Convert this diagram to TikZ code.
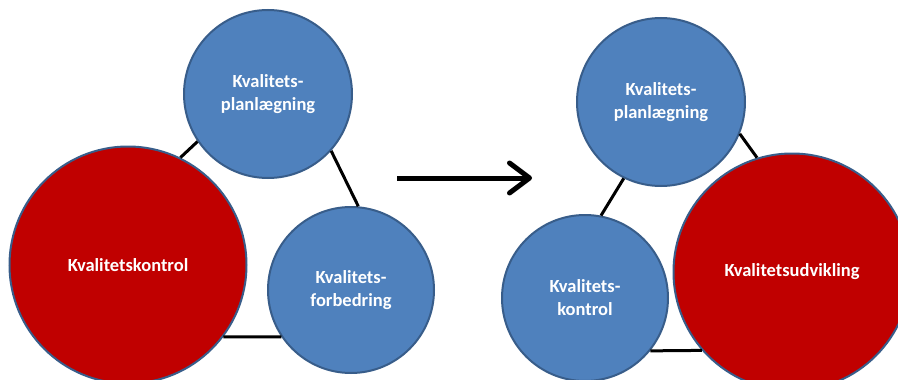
\documentclass[tikz,border=0pt]{standalone}
\usepackage{fontspec}
\setmainfont{Carlito}
\usetikzlibrary{arrows.meta}
\definecolor{cblue}{HTML}{4F81BD}
\definecolor{cedge}{HTML}{385D8A}
\definecolor{cred}{HTML}{C00000}
\tikzset{
  circ/.style={circle, draw=cedge, line width=2pt, inner sep=0pt, text=white,
    font=\fontsize{18.5}{23}\selectfont\bfseries, align=center},
  bluec/.style={circ, fill=cblue},
  redc/.style={circ, fill=cred},
  link/.style={line width=3pt, black},
  bigarrow/.style={line width=5pt, black, -{Straight Barb[length=20pt,width=30pt,round]}}
}
\begin{document}
\begin{tikzpicture}[x=1pt,y=-1pt]
\useasboundingbox (0,0) rectangle (898,380);
\clip (0,0) rectangle (898,380);
% left group
\node[bluec, minimum size=168pt] (lt) at (268,94) {Kvalitets-\\planlægning};
\node[redc, minimum size=237pt] (lr) at (128,265) {Kvalitetskontrol};
\node[bluec, minimum size=166pt] (lb) at (351,290) {Kvalitets-\\forbedring};
\draw[link] (lr.64) -- (lt.214);
\draw[link] (lt.318) -- (lb.85);
\draw[link] (lr.-37) -- (lb.214);
% arrow
\coordinate (as) at (397,178);
\coordinate (ae) at (532,178);
\draw[bigarrow] (as) -- (ae);
% right group
\node[bluec, minimum size=168pt] (rt) at (661,102) {Kvalitets-\\planlægning};
\node[bluec, minimum size=166pt] (rl) at (585,298) {Kvalitets-\\kontrol};
\node[redc, minimum size=237pt] (rr) at (792,272) {Kvalitetsudvikling};
\draw[link] (rt.-22) -- (rr.107);
\draw[link] (rt.244) -- (rl.79);
\draw[link] (rl.-39) -- (rr.221.4);
\end{tikzpicture}
\end{document}
